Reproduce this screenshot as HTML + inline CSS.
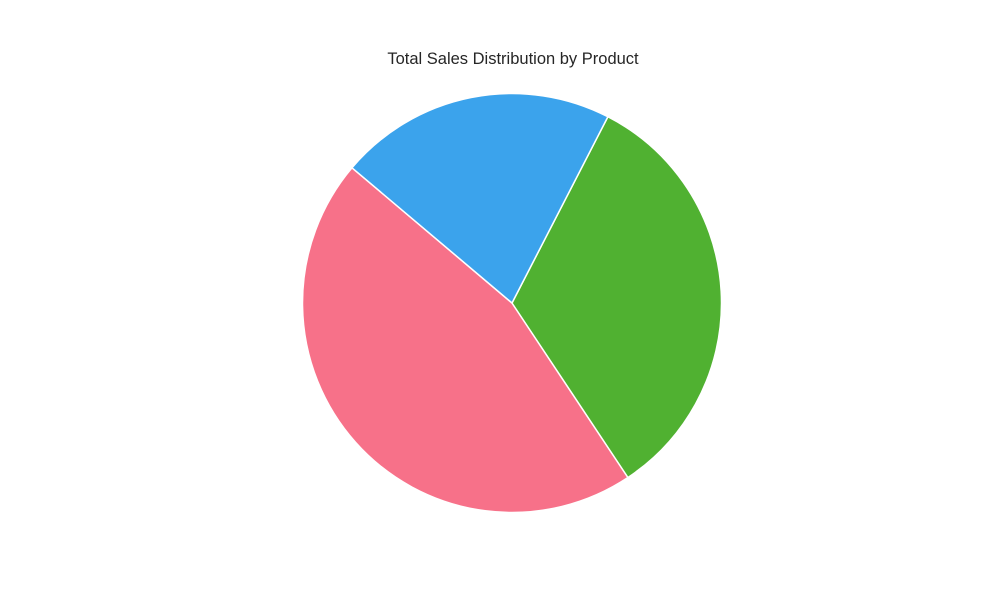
<!DOCTYPE html>
<html><head><meta charset="utf-8"><style>
html,body{margin:0;padding:0;background:#fff;width:1000px;height:600px;overflow:hidden}
svg{display:block}
</style></head><body>
<svg id="chart" width="1000" height="600">
<text x="513" y="64" text-anchor="middle" font-family="'Liberation Sans',Arial,sans-serif" font-size="16.5" fill="#262626">Total Sales Distribution by Product</text>
<g id="slices"></g>
</svg>
<script>
const categories = ["Product A", "Product B", "Product C"];
const values = [45.5, 33.1, 21.4];
const colors = ["#f77189", "#50b131", "#3ba3ec"];
const startAngle = 139.8;
const cx = 512, cy = 303, r = 209.5;
const g = document.getElementById('slices');
const total = values.reduce((a,b)=>a+b,0);
let a0 = startAngle;
function pt(a){const t=a*Math.PI/180;return [cx+r*Math.cos(t), cy-r*Math.sin(t)];}
values.forEach((v,i)=>{
  const sweep = v/total*360;
  const a1 = a0 + sweep;
  const p0 = pt(a0), p1 = pt(a1);
  const large = sweep > 180 ? 1 : 0;
  const path = document.createElementNS('http://www.w3.org/2000/svg','path');
  path.setAttribute('d', `M${cx},${cy} L${p0[0]},${p0[1]} A${r},${r} 0 ${large} 0 ${p1[0]},${p1[1]} Z`);
  path.setAttribute('fill', colors[i]);
  path.setAttribute('stroke', '#fff');
  path.setAttribute('stroke-width', '1.5');
  path.setAttribute('stroke-linejoin', 'round');
  
  
  g.appendChild(path);
  a0 = a1;
});
</script>
</body></html>
